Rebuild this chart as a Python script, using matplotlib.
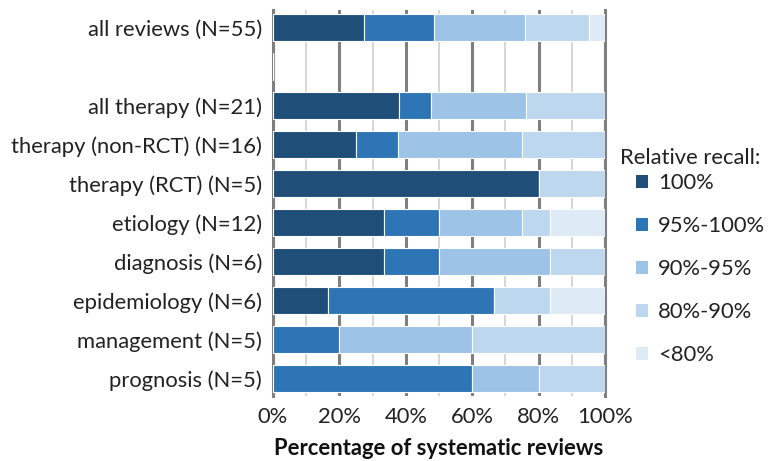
import matplotlib
matplotlib.use("Agg")
import matplotlib.pyplot as plt
from matplotlib.patches import Patch
import numpy as np

plt.rcParams['font.family'] = ['Lato', 'DejaVu Sans']

# categories top to bottom (None = empty row)
categories = ["all reviews (N=55)", None, "all therapy (N=21)", "therapy (non-RCT) (N=16)",
              "therapy (RCT) (N=5)", "etiology (N=12)", "diagnosis (N=6)",
              "epidemiology (N=6)", "management (N=5)", "prognosis (N=5)"]

series_names = ["100%", "95%-100%", "90%-95%", "80%-90%", "<80%"]
colors = ["#1F4E79", "#2E75B6", "#9DC3E6", "#BDD7EE", "#DEEBF7"]

# percentage of reviews per recall band
r100 =    [27.4, 0, 38.1, 25.0, 80.0, 33.3, 33.3, 16.7, 0, 0]
r95_100 = [21.1, 0, 9.5, 12.5, 0, 16.7, 16.7, 50.0, 20.0, 60.0]
r90_95 =  [27.4, 0, 28.6, 37.5, 0, 25.0, 33.3, 0, 40.0, 20.0]
r80_90 =  [19.4, 0, 23.8, 25.0, 20.0, 8.3, 16.7, 16.7, 40.0, 20.0]
r_lt80 =  [4.7, 0, 0, 0, 0, 16.7, 0, 16.7, 0, 0]

data = [r100, r95_100, r90_95, r80_90, r_lt80]

fs = 15.8
fig = plt.figure(figsize=(7.71, 4.61), dpi=100)
ax = fig.add_axes([273 / 771, 1 - 396 / 461, 332 / 771, 386 / 461])

y = np.arange(len(categories))
left = np.zeros(len(categories))
for vals, name, c in zip(data, series_names, colors):
    vals = np.array(vals)
    ax.barh(y, vals, left=left, height=0.68, color=c, edgecolor="white",
            linewidth=0.8, label=name, zorder=3)
    left += vals

ax.set_xlim(0, 100)
ax.set_ylim(len(categories) - 0.55, -0.45)
ax.set_yticks([i for i, c in enumerate(categories) if c])
ax.set_yticklabels([c for c in categories if c], fontsize=fs, color="#222222")
ax.tick_params(axis='y', length=0, pad=8)

ax.set_xticks(np.arange(0, 101, 20))
ax.set_xticklabels([f"{v}%" for v in range(0, 101, 20)], fontsize=fs, color="#222222")
ax.set_xticks(np.arange(10, 100, 20), minor=True)
ax.tick_params(axis='x', which='both', length=0, pad=8)

ax.grid(axis='x', which='major', color="#7F7F7F", linewidth=2.2, zorder=0)
ax.grid(axis='x', which='minor', color="#D0D0D0", linewidth=1.2, zorder=0)
ax.set_axisbelow(True)

for s in ["top", "bottom"]:
    ax.spines[s].set_visible(False)
for s in ["left", "right"]:
    ax.spines[s].set_color("#7F7F7F")
    ax.spines[s].set_linewidth(2.2)

ax.set_xlabel("Percentage of systematic reviews", fontsize=fs, fontweight="bold",
              labelpad=8, color="#111111")

fig.text(620 / 771, 1 - 158 / 461, "Relative recall:", fontsize=fs, color="#222222",
         ha="left", va="center")
handles = [Patch(facecolor=c, edgecolor="none") for c in colors]
leg = fig.legend(handles, series_names, loc="upper left",
                 bbox_to_anchor=(636 / 771, 1 - 173 / 461), frameon=False, fontsize=fs,
                 handlelength=0.55, handleheight=0.55,
                 handletextpad=0.45, labelspacing=1.05, borderaxespad=0, borderpad=0)
for t in leg.get_texts():
    t.set_color("#222222")

fig.savefig("out.png", dpi=100)
